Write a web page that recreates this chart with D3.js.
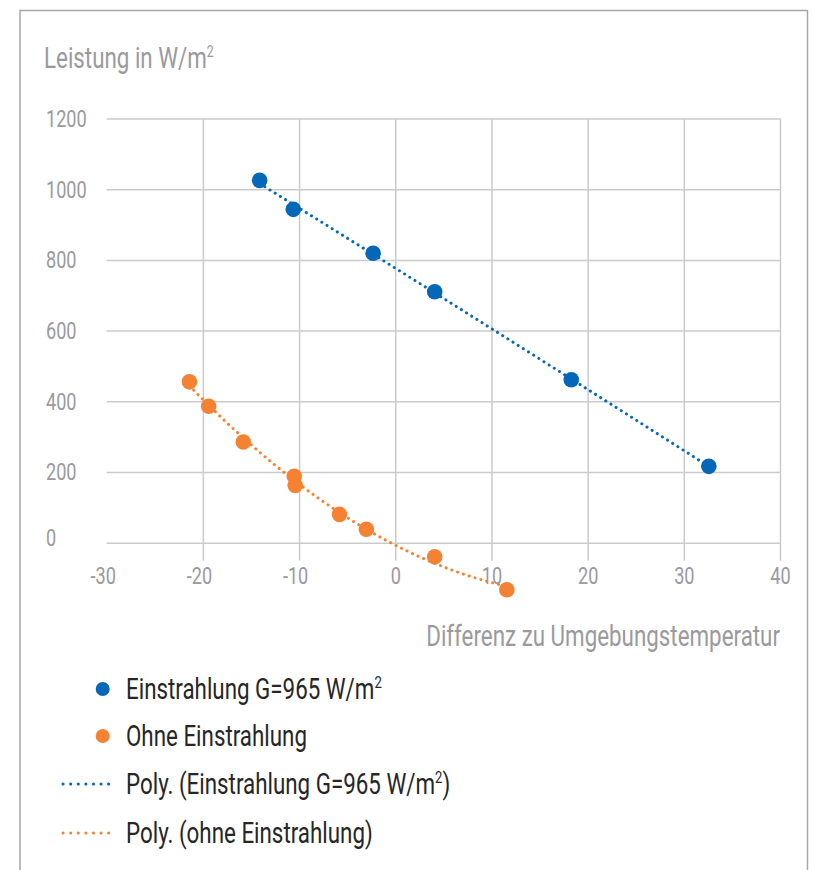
<!DOCTYPE html>
<html>
<head>
<meta charset="utf-8">
<script src="https://cdn.jsdelivr.net/npm/d3@7"></script>
<style>
  body { margin: 0; background: #fff; }
  svg text { font-family: Roboto, "DejaVu Sans Condensed", sans-serif; }
</style>
</head>
<body>
<svg width="814" height="870"></svg>
<script>
// values
const blueX = [-14.1, -10.6, -2.3, 4.1, 18.3, 32.6];
const blueY = [1025, 943, 819, 710, 461, 216];
const orangeX = [-21.4, -19.4, -15.8, -10.5, -10.4, -5.8, -3.0, 4.1, 11.6];
const orangeY = [455, 386, 285, 188, 162, 80, 38, -40, -133];

const xTicks = [-30, -20, -10, 0, 10, 20, 30, 40];
const yTicks = [0, 200, 400, 600, 800, 1000, 1200];

const seriesNames = ['Einstrahlung G=965 W/m²', 'Ohne Einstrahlung'];
const trendNames = ['Poly. (Einstrahlung G=965 W/m²)', 'Poly. (ohne Einstrahlung)'];
const colors = ['#0567b8', '#f58232'];

const svg = d3.select('svg');

// frame
svg.append('path')
    .attr('d', 'M20,870 V10.5 H807.5 V870')
    .attr('fill', 'none')
    .attr('stroke', '#a6a6a6')
    .attr('stroke-width', 1.5);

const x = d3.scaleLinear().domain([-30, 40]).range([106.7, 780]);
const y = d3.scaleLinear().domain([0, 1200]).range([542.7, 118.5]);
const gridBottom = y(0) + 18;

const gridColor = '#cbcbcb';
const labelColor = '#9a9a9e';

// x axis with vertical gridlines
const xAxis = svg.append('g')
    .attr('transform', `translate(0,${gridBottom})`)
    .call(d3.axisBottom(x).tickValues(xTicks)
        .tickSizeInner(-(gridBottom - y(1200)))
        .tickSizeOuter(0)
        .tickPadding(7)
        .tickFormat(d => d));
xAxis.select('.domain').remove();
xAxis.selectAll('line')
    .attr('stroke', gridColor)
    .attr('stroke-width', 1.5)
    .attr('display', d => d === -30 ? 'none' : null);
xAxis.selectAll('text')
    .attr('fill', labelColor)
    .attr('font-size', 23.5)
    .attr('x', d => d < 0 ? -4 : 0);

// y axis with horizontal gridlines
const yAxis = svg.append('g')
    .attr('transform', `translate(${x(-30)},0)`)
    .call(d3.axisLeft(y).tickValues(yTicks)
        .tickSizeInner(-(x(40) - x(-30)))
        .tickSizeOuter(0)
        .tickFormat(d => d));
yAxis.select('.domain').remove();
yAxis.selectAll('line')
    .attr('stroke', gridColor)
    .attr('stroke-width', 1.5);
yAxis.selectAll('text')
    .attr('fill', labelColor)
    .attr('font-size', 23.5)
    .attr('text-anchor', 'start')
    .attr('x', 46 - x(-30))
    .attr('dy', d => d === 0 ? '0.1em' : '0.34em');

// axis titles
const yTitle = svg.append('text')
    .attr('x', 44)
    .attr('y', 68)
    .attr('fill', labelColor)
    .attr('font-size', 29)
    .text('Leistung in W/m');
yTitle.append('tspan').attr('font-size', 16).attr('dy', -11).text('2');

svg.append('text')
    .attr('x', 780)
    .attr('y', 646)
    .attr('text-anchor', 'end')
    .attr('fill', labelColor)
    .attr('font-size', 29)
    .text('Differenz zu Umgebungstemperatur');

// quadratic least squares fit (Excel "Poly." trendline, order 2)
function polyFit(xs, ys) {
  const s = [0, 0, 0, 0, 0];
  const t = [0, 0, 0];
  xs.forEach((xv, i) => {
    for (let k = 0; k < 5; k++) s[k] += Math.pow(xv, k);
    for (let k = 0; k < 3; k++) t[k] += ys[i] * Math.pow(xv, k);
  });
  const m = [[s[0], s[1], s[2], t[0]], [s[1], s[2], s[3], t[1]], [s[2], s[3], s[4], t[2]]];
  for (let i = 0; i < 3; i++) {
    for (let j = i + 1; j < 3; j++) {
      const f = m[j][i] / m[i][i];
      for (let k = i; k < 4; k++) m[j][k] -= f * m[i][k];
    }
  }
  const c = [0, 0, 0];
  for (let i = 2; i >= 0; i--) {
    let v = m[i][3];
    for (let k = i + 1; k < 3; k++) v -= m[i][k] * c[k];
    c[i] = v / m[i][i];
  }
  return xv => c[0] + c[1] * xv + c[2] * xv * xv;
}

const series = [
  { xs: blueX, ys: blueY, color: colors[0] },
  { xs: orangeX, ys: orangeY, color: colors[1] }
];

const line = d3.line().x(d => x(d[0])).y(d => y(d[1]));

series.forEach(s => {
  const f = polyFit(s.xs, s.ys);
  const [lo, hi] = d3.extent(s.xs);
  const curve = d3.range(0, 101).map(i => {
    const xv = lo + (hi - lo) * i / 100;
    return [xv, f(xv)];
  });
  svg.append('path')
      .attr('d', line(curve))
      .attr('fill', 'none')
      .attr('stroke', s.color)
      .attr('stroke-width', 3)
      .attr('stroke-linecap', 'round')
      .attr('stroke-dasharray', '0.1 6');
});

series.forEach(s => {
  svg.append('g')
      .selectAll('circle')
      .data(s.xs.map((xv, i) => [xv, s.ys[i]]))
      .join('circle')
      .attr('cx', d => x(d[0]))
      .attr('cy', d => y(d[1]))
      .attr('r', 7.8)
      .attr('fill', s.color);
});

// legend
const legend = svg.append('g');
const rowY = [689, 736, 784, 833];
const legendText = '#262626';

function legendLabel(row, label) {
  const t = legend.append('text')
      .attr('x', 126)
      .attr('y', rowY[row])
      .attr('dy', '0.35em')
      .attr('fill', legendText)
      .attr('font-size', 29);
  const parts = label.split('²');
  t.append('tspan').text(parts[0]);
  if (parts.length > 1) {
    t.append('tspan').attr('font-size', 17).attr('dy', -11).text('2');
    t.append('tspan').attr('dy', 11).text(parts[1]);
  }
  return t;
}

let firstLabel;
seriesNames.forEach((name, i) => {
  legend.append('circle')
      .attr('cx', 102.7)
      .attr('cy', rowY[i])
      .attr('r', 7)
      .attr('fill', colors[i]);
  const t = legendLabel(i, name);
  if (i === 0) firstLabel = t;
});

trendNames.forEach((name, i) => {
  legend.append('line')
      .attr('x1', 63).attr('x2', 116)
      .attr('y1', rowY[i + 2]).attr('y2', rowY[i + 2])
      .attr('stroke', colors[i])
      .attr('stroke-width', 3)
      .attr('stroke-linecap', 'round')
      .attr('stroke-dasharray', '0.1 7.5');
  legendLabel(i + 2, name);
});

// the original uses a narrow condensed face: squeeze every text horizontally
// around its anchor so widths match (first legend label is ~256px wide there)
const sx = 256 / firstLabel.node().getBBox().width;
svg.selectAll('text').each(function() {
  const el = d3.select(this);
  const ax = +el.attr('x') || 0;
  el.attr('transform', `translate(${ax},0) scale(${sx},1) translate(${-ax},0)`);
});
</script>
</body>
</html>
